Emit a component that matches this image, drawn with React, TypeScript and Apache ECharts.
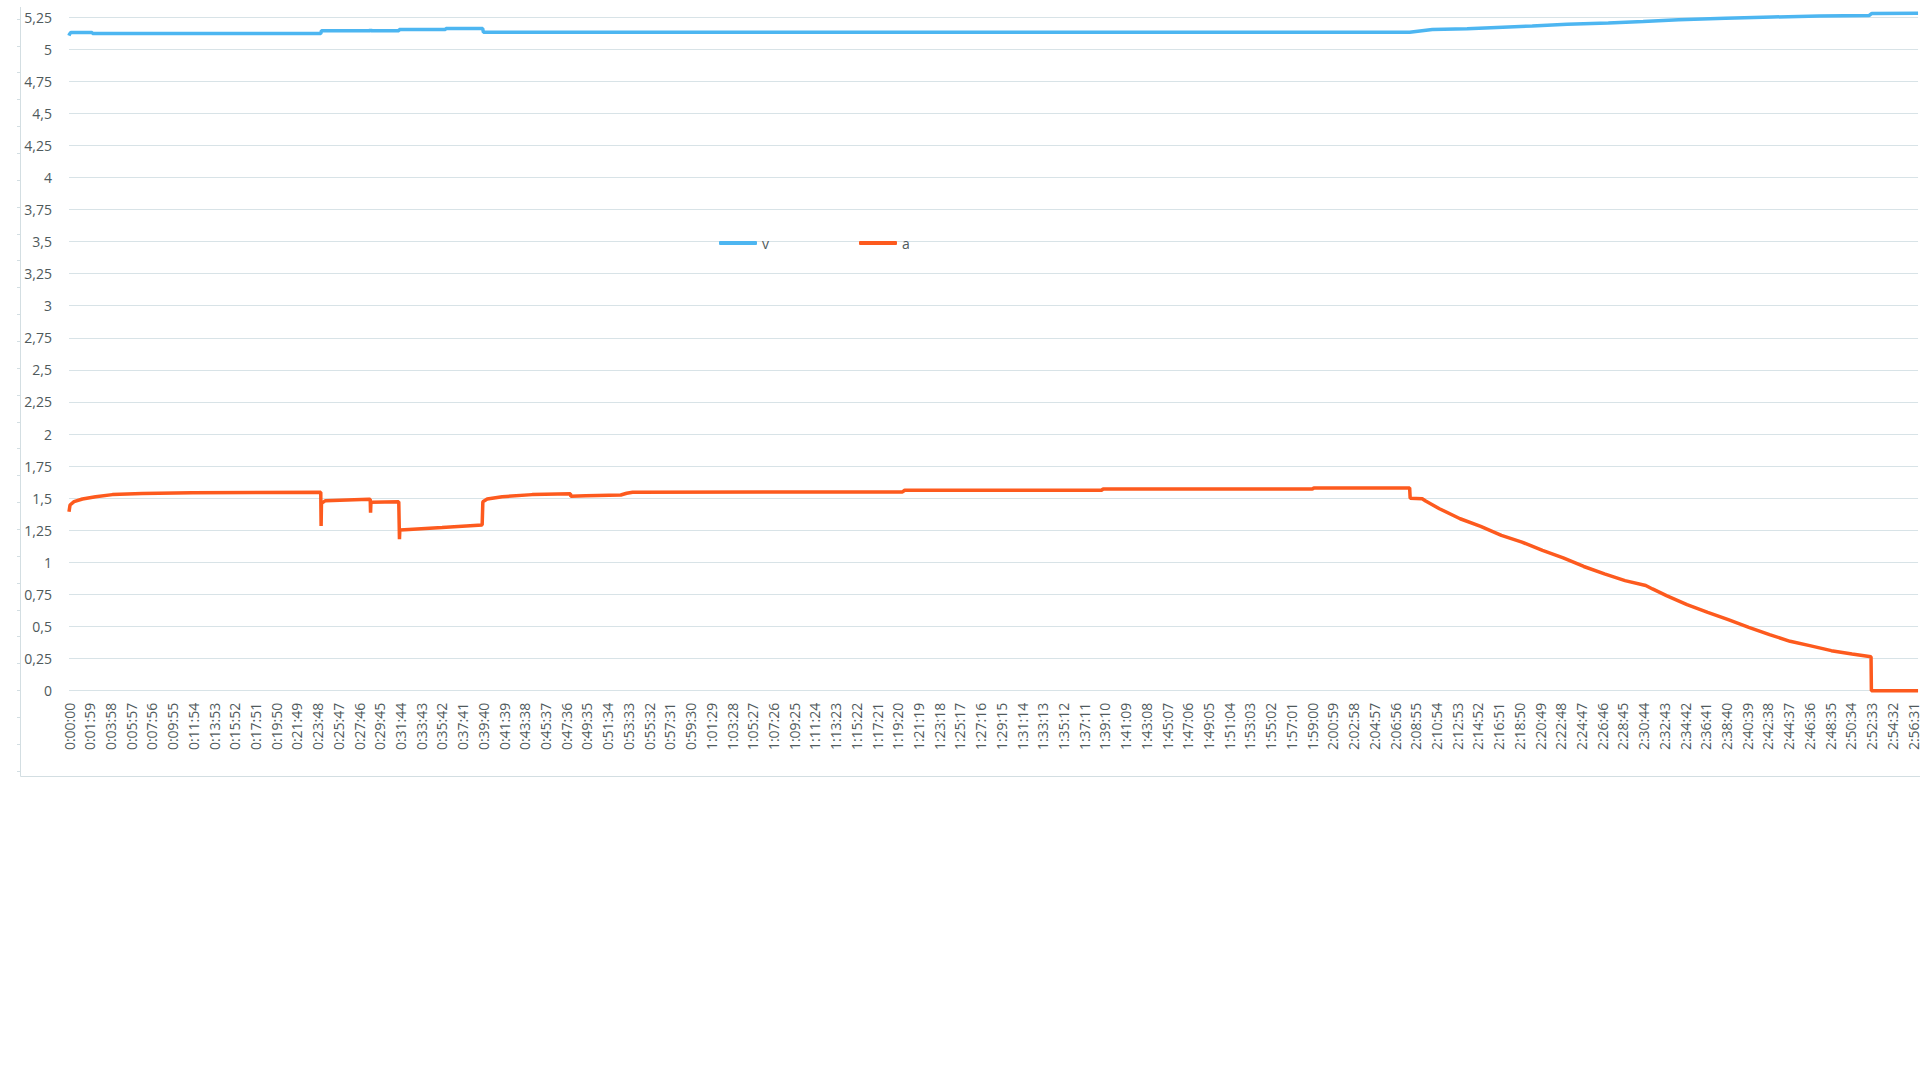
import React, { useEffect, useRef } from "react";
import * as echarts from "echarts";

// Elapsed time (seconds) and readings for series "a"
const aTimes = [
  0, 6, 29, 77, 153, 249, 421, 708, 1446, 1448, 1450, 1473, 1722, 1730, 1732, 1734,
  1894, 1897, 1898, 1900, 1952, 2143, 2373, 2377, 2402, 2488, 2660, 2880, 2882, 2968,
  3169, 3203, 3237, 4787, 4800, 5930, 5940, 7141, 7150, 7700, 7703, 7772, 7792, 7871,
  7990, 8108, 8227, 8345, 8463, 8582, 8700, 8819, 8937, 9056, 9095, 9175, 9293, 9412,
  9530, 9648, 9767, 9885, 10004, 10122, 10241, 10350, 10352, 10620,
];
const aValues = [
  1.395, 1.447, 1.473, 1.494, 1.512, 1.528, 1.536, 1.543, 1.546, 1.284, 1.46, 1.481, 1.492, 1.492, 1.388, 1.468,
  1.473, 1.473, 1.18, 1.252, 1.257, 1.271, 1.292, 1.473, 1.494, 1.512, 1.528, 1.535, 1.515, 1.52,
  1.525, 1.539, 1.547, 1.549, 1.562, 1.562, 1.572, 1.572, 1.58, 1.58, 1.5, 1.496, 1.478, 1.418,
  1.34, 1.28, 1.21, 1.158, 1.093, 1.035, 0.968, 0.91, 0.858, 0.82, 0.793, 0.741, 0.671, 0.611,
  0.554, 0.494, 0.437, 0.385, 0.349, 0.312, 0.286, 0.265, 0, 0,
];

// Elapsed time (seconds) and readings for series "v"
const vTimes = [
  0, 3, 10, 133, 135, 1446, 1450, 1730, 1732, 1734, 1895, 1897, 2162, 2165, 2376, 2380,
  7700, 7830, 8030, 8235, 8404, 8605, 8841, 9041, 9245, 9514, 9784, 10052, 10340, 10355, 10620,
];
const vValues = [
  5.105, 5.116, 5.129, 5.129, 5.121, 5.121, 5.143, 5.143, 5.155, 5.143, 5.143, 5.152, 5.152, 5.16, 5.16, 5.131,
  5.132, 5.152, 5.158, 5.17, 5.18, 5.193, 5.203, 5.215, 5.228, 5.24, 5.25, 5.257, 5.262, 5.278, 5.28,
];

const seriesNames = ["v", "a"];
const xMin = 0;
const xMax = 10620;
const xStep = 119; // label step in seconds
const yMin = 0;
const yMax = 5.25;
const yStep = 0.25;

const pad2 = (n: number) => (n < 10 ? "0" + n : String(n));
const fmtTime = (val: number) => {
  const s = Math.round(val);
  const h = Math.floor(s / 3600);
  const m = Math.floor((s % 3600) / 60);
  const sec = s % 60;
  return `${h}:${pad2(m)}:${pad2(sec)}`;
};
const fmtNum = (val: number) => String(val).replace(".", ",");

const TEXT = "#4f5a5c";
const GRID = "#d8e3e7";
const FRAME = "#d3dee2";

export default function App() {
  const ref = useRef<HTMLDivElement>(null);
  useEffect(() => {
    if (!ref.current) return;
    const chart = echarts.init(ref.current, undefined, { renderer: "svg" });
    const vData = vTimes.map((t, i) => [t, vValues[i]]);
    const aData = aTimes.map((t, i) => [t, aValues[i]]);
    chart.setOption({
      animation: false,
      backgroundColor: "#ffffff",
      textStyle: { fontFamily: "Open Sans" },
      legend: {
        data: seriesNames,
        left: 714,
        top: 231,
        icon: "roundRect",
        itemWidth: 38,
        itemHeight: 4,
        itemGap: 90,
        textStyle: { color: TEXT, fontSize: 14, fontFamily: "Open Sans" },
      },
      grid: [
        { left: 69, right: 0, top: 17, height: 673.7 },
        { left: 20, top: 19, height: 752, width: 1 },
      ],
      xAxis: [
        {
          type: "value",
          gridIndex: 0,
          min: xMin,
          max: xMax,
          interval: xStep,
          axisLine: { show: false },
          axisTick: { show: false },
          splitLine: { show: false },
          axisLabel: {
            rotate: 90,
            margin: 12,
            color: TEXT,
            fontSize: 14,
            fontFamily: "Open Sans",
            showMaxLabel: false,
            formatter: fmtTime,
          },
        },
        { type: "value", gridIndex: 1, show: false, min: 0, max: 1 },
      ],
      yAxis: [
        {
          type: "value",
          gridIndex: 0,
          min: yMin,
          max: yMax,
          interval: yStep,
          axisLine: { show: false },
          axisTick: { show: false },
          splitLine: { show: true, lineStyle: { color: GRID, width: 1 } },
          axisLabel: {
            margin: 17,
            color: TEXT,
            fontSize: 14,
            fontFamily: "Open Sans",
            formatter: fmtNum,
          },
        },
        {
          type: "value",
          gridIndex: 1,
          min: 0,
          max: 28,
          interval: 1,
          axisLine: { show: false },
          axisTick: { show: true, length: 3, lineStyle: { color: FRAME } },
          axisLabel: { show: false },
          splitLine: { show: false },
        },
      ],
      graphic: [
        {
          type: "polyline",
          silent: true,
          shape: { points: [[20.5, 7], [20.5, 776.5], [1920, 776.5]] },
          style: { stroke: FRAME, lineWidth: 1, fill: "none" },
        },
      ],
      series: [
        {
          name: "v",
          type: "line",
          xAxisIndex: 0,
          yAxisIndex: 0,
          data: vData,
          showSymbol: false,
          symbol: "none",
          clip: false,
          color: "#4db6f1",
          lineStyle: { color: "#4db6f1", width: 3.5 },
        },
        {
          name: "a",
          type: "line",
          xAxisIndex: 0,
          yAxisIndex: 0,
          data: aData,
          showSymbol: false,
          symbol: "none",
          clip: false,
          color: "#fd5a1e",
          lineStyle: { color: "#fd5a1e", width: 3.5 },
        },
      ],
    });
    return () => chart.dispose();
  }, []);
  return (
    <div
      ref={ref}
      style={{ position: "fixed", left: 0, top: 0, width: "1920px", height: "1080px", background: "#fff" }}
    />
  );
}
